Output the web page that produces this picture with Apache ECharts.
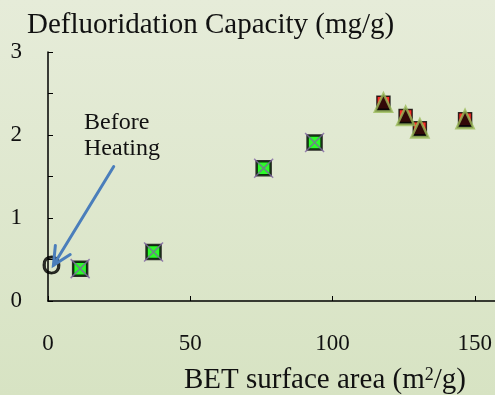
<!DOCTYPE html>
<html>
<head>
<meta charset="utf-8">
<script src="https://cdn.jsdelivr.net/npm/echarts@6/dist/echarts.min.js"></script>
<style>
  html, body { margin: 0; padding: 0; }
  #chart { width: 495px; height: 395px; }
</style>
</head>
<body>
<div id="chart"></div>
<script>
// BET surface area (m2/g) vs. defluoridation capacity (mg/g)
const squareArea = [11.3, 37.1, 75.8, 93.7];
const squareCapacity = [0.39, 0.59, 1.6, 1.91];

const triangleArea = [117.9, 125.7, 130.7, 146.6];
const triangleCapacity = [2.39, 2.23, 2.08, 2.19];

// Unheated sample, drawn as a letter "O"
const beforeArea = [1.2];
const beforeCapacity = [0.41];

// Arrow from the "Before Heating" note to the unheated sample
const arrowFrom = [23.1, 1.62];
const arrowTo = [1.9, 0.43];

const xTicks = [0, 50, 100, 150];
const yTicks = [0, 1, 2, 3];
const yMinorTicks = [0, 0.5, 1, 1.5, 2, 2.5, 3];

const pairs = (xs, ys) => xs.map((x, i) => [x, ys[i]]);

const serif = 'Liberation Serif';
const chart = echarts.init(document.getElementById('chart'));

chart.setOption({
  animation: false,
  backgroundColor: {
    type: 'linear', x: 0, y: 0, x2: 0, y2: 1,
    colorStops: [
      { offset: 0, color: '#e6ecd9' },
      { offset: 1, color: '#d7e3c3' }
    ]
  },
  title: [
    {
      text: 'Defluoridation Capacity (mg/g)',
      left: 22, top: 6,
      textStyle: { fontFamily: serif, fontSize: 29, fontWeight: 'normal', color: '#111' }
    },
    {
      text: 'BET surface area (m{sup|2}/g)',
      left: 179, top: 361,
      textStyle: {
        fontFamily: serif, fontSize: 29, fontWeight: 'normal', color: '#111',
        rich: { sup: { fontFamily: serif, fontSize: 18, color: '#111', verticalAlign: 'top', lineHeight: 29, padding: [0, 0, 12, 0] } }
      }
    }
  ],
  grid: { left: 48, right: 0, top: 52, bottom: 94, containLabel: false },
  xAxis: {
    type: 'value', min: 0, max: 157, interval: 50,
    axisLine: { lineStyle: { color: '#000', width: 1.5 } },
    axisTick: { show: true, inside: true, length: 5, customValues: xTicks, lineStyle: { color: '#000', width: 1 } },
    splitLine: { show: false },
    axisLabel: {
      margin: 31, fontFamily: serif, fontSize: 23, color: '#111',
      customValues: xTicks,
      formatter: v => (xTicks.indexOf(v) >= 0 ? String(v) : '')
    }
  },
  yAxis: {
    type: 'value', min: 0, max: 3, interval: 0.5,
    axisLine: { show: true, lineStyle: { color: '#000', width: 1.5 } },
    axisTick: { show: true, inside: true, length: 5, customValues: yMinorTicks, lineStyle: { color: '#000', width: 1 } },
    splitLine: { show: false },
    axisLabel: {
      margin: 26, fontFamily: serif, fontSize: 23, color: '#111',
      customValues: yTicks,
      formatter: v => (yTicks.indexOf(v) >= 0 ? String(v) : '')
    }
  },
  graphic: [
    {
      type: 'text', left: 84, top: 110,
      style: { text: 'Before\nHeating', font: '24px "Liberation Serif"', fill: '#111', lineHeight: 26 }
    }
  ],
  series: [
    {
      type: 'custom',
      renderItem: (params, api) => {
        const p1 = api.coord([api.value(0), api.value(1)]);
        const p2 = api.coord([api.value(2), api.value(3)]);
        const ang = Math.atan2(p2[1] - p1[1], p2[0] - p1[0]);
        const len = 20, spread = 0.45;
        const a1 = [p2[0] - len * Math.cos(ang - spread), p2[1] - len * Math.sin(ang - spread)];
        const a2 = [p2[0] - len * Math.cos(ang + spread), p2[1] - len * Math.sin(ang + spread)];
        const st = { stroke: '#4a7ebb', lineWidth: 3, fill: null, lineCap: 'round', lineJoin: 'miter' };
        return {
          type: 'group',
          children: [
            { type: 'line', shape: { x1: p1[0], y1: p1[1], x2: p2[0], y2: p2[1] }, style: st },
            { type: 'polyline', shape: { points: [a1, p2, a2] }, style: st }
          ]
        };
      },
      encode: { x: [0, 2], y: [1, 3] },
      data: [[arrowFrom[0], arrowFrom[1], arrowTo[0], arrowTo[1]]],
      z: 5
    },
    {
      type: 'scatter',
      data: pairs(beforeArea, beforeCapacity),
      symbolSize: 1,
      itemStyle: { color: 'rgba(0,0,0,0)' },
      label: {
        show: true, position: 'inside', formatter: 'O',
        fontFamily: 'Liberation Sans', fontSize: 25, color: '#000',
        textBorderColor: '#000', textBorderWidth: 0.8
      },
      z: 4
    },
    {
      type: 'scatter',
      data: pairs(squareArea, squareCapacity),
      symbol: 'rect', symbolSize: 14,
      itemStyle: { color: '#00ff00', borderColor: '#000', borderWidth: 2.5 },
      z: 6
    },
    {
      type: 'scatter',
      data: pairs(squareArea, squareCapacity),
      symbol: 'path://M0,0L10,10M10,0L0,10', symbolSize: 19,
      itemStyle: { color: 'rgba(0,0,0,0)', borderColor: '#8064a2', borderWidth: 1.5 },
      z: 7
    },
    {
      type: 'scatter',
      data: pairs(triangleArea, triangleCapacity),
      symbol: 'rect', symbolSize: 13,
      itemStyle: { color: '#ff0000', borderColor: '#000', borderWidth: 1.5 },
      z: 6
    },
    {
      type: 'scatter',
      data: pairs(triangleArea, triangleCapacity),
      symbol: 'triangle', symbolSize: [17, 18],
      itemStyle: { color: '#000', borderColor: '#9bbb59', borderWidth: 2.5 },
      z: 7
    }
  ]
});
</script>
</body>
</html>
